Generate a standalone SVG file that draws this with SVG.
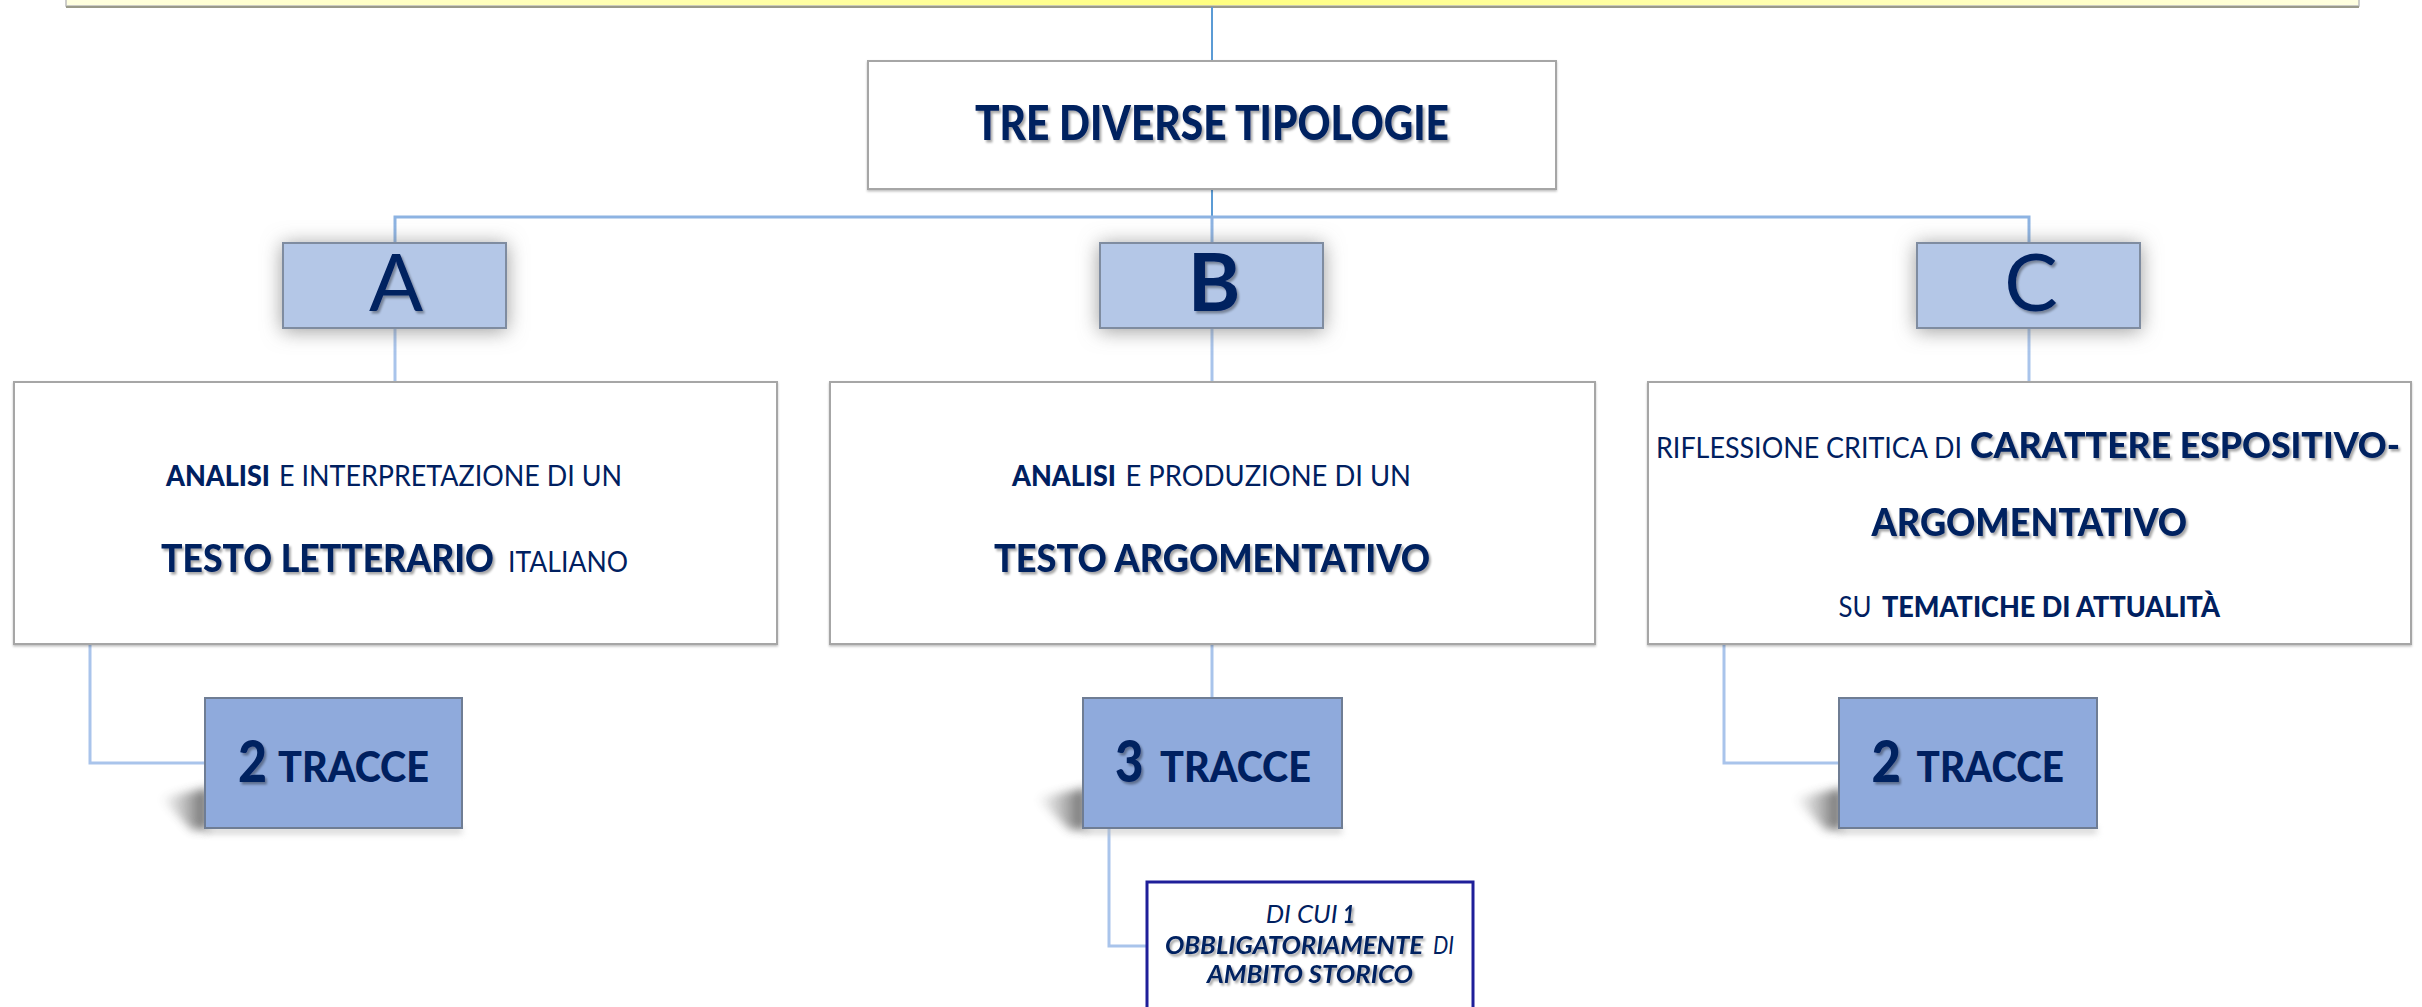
<svg xmlns="http://www.w3.org/2000/svg" width="2422" height="1007" viewBox="0 0 2422 1007">
<style>
.t{font-family:Lato,"Open Sans","Liberation Sans",sans-serif;fill:#002060}
.b{font-weight:900}
.b7{font-weight:700}
.i{font-style:italic}
.sh{filter:url(#txtsh)}
.shs{filter:url(#txtsh2)}
.box{fill:#fff;stroke:#a6a6a6;stroke-width:2}
.abc{fill:#b4c7e7;stroke:#7f8ca0;stroke-width:2}
.trc{fill:#8faadc;stroke:#6f7d94;stroke-width:2}
.c1{fill:none;stroke:#5b9bd5;stroke-width:2}
.c2{fill:none;stroke:#8db3e2;stroke-width:3}
.c3{fill:none;stroke:#a9c4eb;stroke-width:3}
</style>
<defs>
<linearGradient id="ban" x1="0" y1="0" x2="1" y2="0">
<stop offset="0" stop-color="#ffffe0"/>
<stop offset="0.5" stop-color="#ffff80"/>
<stop offset="1" stop-color="#ffffe0"/>
</linearGradient>
<linearGradient id="tsh" x1="0" y1="0" x2="1" y2="0">
<stop offset="0" stop-color="#888" stop-opacity="0"/>
<stop offset="1" stop-color="#555" stop-opacity="1"/>
</linearGradient>
<filter id="txtsh" x="-1.2%" y="-20%" width="102.4%" height="150%">
<feDropShadow dx="2" dy="2.5" stdDeviation="1.2" flood-color="#000" flood-opacity="0.35"/>
</filter>
<filter id="txtsh2" x="-60%" y="-20%" width="220%" height="150%">
<feDropShadow dx="2" dy="2.5" stdDeviation="1.2" flood-color="#000" flood-opacity="0.35"/>
</filter>
<filter id="glow" x="-30%" y="-40%" width="160%" height="180%">
<feDropShadow dx="0" dy="2" stdDeviation="10" flood-color="#7a7a7a" flood-opacity="0.75"/>
</filter>
<filter id="bsh" x="-5%" y="-5%" width="110%" height="115%">
<feDropShadow dx="0" dy="1.5" stdDeviation="1" flood-color="#000" flood-opacity="0.25"/>
</filter>
<filter id="blur6" x="-50%" y="-50%" width="200%" height="200%">
<feGaussianBlur stdDeviation="5"/>
</filter>
<filter id="blur3" x="-50%" y="-50%" width="200%" height="300%">
<feGaussianBlur stdDeviation="3"/>
</filter>
</defs>
<rect width="2422" height="1007" fill="#fff"/>

<g id="banner">
<rect x="66" y="-5" width="2293" height="11" fill="url(#ban)" stroke="#bdbdbd" stroke-width="1.5"/>
<line x1="66" y1="7" x2="2359" y2="7" stroke="#9a9a8a" stroke-width="2"/>
</g>

<g id="connectors">
<line class="c1" x1="1212" y1="7" x2="1212" y2="61"/>
<line class="c1" x1="1212" y1="189" x2="1212" y2="217"/>
<polyline class="c2" points="395,243 395,217 2029,217 2029,243"/>
<line class="c2" x1="1212" y1="217" x2="1212" y2="243"/>
<line class="c3" x1="395" y1="328" x2="395" y2="382"/>
<line class="c3" x1="1212" y1="328" x2="1212" y2="382"/>
<line class="c3" x1="2029" y1="328" x2="2029" y2="382"/>
<polyline class="c3" points="90,644 90,763 205,763"/>
<line class="c3" x1="1212" y1="644" x2="1212" y2="698"/>
<polyline class="c3" points="1724,644 1724,763 1839,763"/>
<polyline class="c3" points="1109,828 1109,946 1147,946"/>
</g>

<g id="node-tipologie">
<rect class="box" x="868" y="61" width="688" height="128" filter="url(#bsh)"/>
<text class="t b sh" x="975" y="140" font-size="47" textLength="474" lengthAdjust="spacingAndGlyphs">TRE DIVERSE TIPOLOGIE</text>
</g>

<g id="node-A">
<rect class="abc" x="283" y="243" width="223" height="85" filter="url(#glow)"/>
<text class="t shs" x="396" y="311" font-size="80" text-anchor="middle">A</text>
</g>
<g id="node-B">
<rect class="abc" x="1100" y="243" width="223" height="85" filter="url(#glow)"/>
<text class="t shs" x="1214" y="311" font-size="80" text-anchor="middle" font-weight="700">B</text>
</g>
<g id="node-C">
<rect class="abc" x="1917" y="243" width="223" height="85" filter="url(#glow)"/>
<text class="t shs" x="2031" y="311" font-size="80" text-anchor="middle">C</text>
</g>

<g id="node-A-desc">
<rect class="box" x="14" y="382" width="763" height="262" filter="url(#bsh)"/>
<text class="t b" x="166" y="486" font-size="29" textLength="104" lengthAdjust="spacingAndGlyphs">ANALISI</text>
<text class="t" x="279" y="486" font-size="29" textLength="343" lengthAdjust="spacingAndGlyphs">E INTERPRETAZIONE DI UN</text>
<text class="t b sh" x="161" y="572" font-size="37" textLength="333" lengthAdjust="spacingAndGlyphs">TESTO LETTERARIO</text>
<text class="t" x="508" y="572" font-size="29" textLength="120" lengthAdjust="spacingAndGlyphs">ITALIANO</text>
</g>

<g id="node-B-desc">
<rect class="box" x="830" y="382" width="765" height="262" filter="url(#bsh)"/>
<text class="t b" x="1012" y="486" font-size="29" textLength="104" lengthAdjust="spacingAndGlyphs">ANALISI</text>
<text class="t" x="1125.5" y="486" font-size="29" textLength="285.5" lengthAdjust="spacingAndGlyphs">E PRODUZIONE  DI UN</text>
<text class="t b sh" x="994" y="572" font-size="37" textLength="436" lengthAdjust="spacingAndGlyphs">TESTO ARGOMENTATIVO</text>
</g>

<g id="node-C-desc">
<rect class="box" x="1648" y="382" width="763" height="262" filter="url(#bsh)"/>
<text class="t" x="1656" y="458" font-size="29" textLength="306" lengthAdjust="spacingAndGlyphs">RIFLESSIONE CRITICA DI</text>
<text class="t b sh" x="1970" y="458" font-size="36" textLength="430" lengthAdjust="spacingAndGlyphs">CARATTERE ESPOSITIVO-</text>
<text class="t b sh" x="1871.5" y="536" font-size="37" textLength="315.5" lengthAdjust="spacingAndGlyphs">ARGOMENTATIVO</text>
<text class="t" x="1838.5" y="617" font-size="29" textLength="33" lengthAdjust="spacingAndGlyphs">SU</text>
<text class="t b" x="1882" y="617" font-size="29" textLength="338" lengthAdjust="spacingAndGlyphs">TEMATICHE DI ATTUALITÀ</text>
</g>

<g id="node-A-tracce">
<polygon points="160,798 208,788 208,830 192,830" fill="url(#tsh)" filter="url(#blur6)" opacity="0.9"/>
<rect x="205" y="827" width="257" height="7" fill="#bbb" filter="url(#blur3)" opacity="0.6"/>
<rect class="trc" x="205" y="698" width="257" height="130"/>
<text class="t b shs" x="238" y="782" font-size="58" textLength="29" lengthAdjust="spacingAndGlyphs">2</text>
<text class="t b" x="278" y="782" font-size="42" textLength="151" lengthAdjust="spacingAndGlyphs">TRACCE</text>
</g>

<g id="node-B-tracce">
<polygon points="1036,798 1086,788 1086,830 1070,830" fill="url(#tsh)" filter="url(#blur6)" opacity="0.9"/>
<rect x="1083" y="827" width="259" height="7" fill="#bbb" filter="url(#blur3)" opacity="0.6"/>
<rect class="trc" x="1083" y="698" width="259" height="130"/>
<text class="t b shs" x="1115" y="782" font-size="58" textLength="28.5" lengthAdjust="spacingAndGlyphs">3</text>
<text class="t b" x="1160" y="782" font-size="42" textLength="151" lengthAdjust="spacingAndGlyphs">TRACCE</text>
</g>

<g id="node-C-tracce">
<polygon points="1794,798 1842,788 1842,830 1826,830" fill="url(#tsh)" filter="url(#blur6)" opacity="0.9"/>
<rect x="1839" y="827" width="258" height="7" fill="#bbb" filter="url(#blur3)" opacity="0.6"/>
<rect class="trc" x="1839" y="698" width="258" height="130"/>
<text class="t b shs" x="1871.5" y="782" font-size="58" textLength="29.5" lengthAdjust="spacingAndGlyphs">2</text>
<text class="t b" x="1916.6" y="782" font-size="42" textLength="147.4" lengthAdjust="spacingAndGlyphs">TRACCE</text>
</g>

<g id="node-storico">
<rect x="1147" y="882" width="326" height="140" fill="#fff" stroke="#1f1f99" stroke-width="3"/>
<text class="t i" x="1265.7" y="923" font-size="25" textLength="72" lengthAdjust="spacingAndGlyphs">DI CUI</text>
<text class="t b7 i shs" x="1342.7" y="923" font-size="25" textLength="12.3" lengthAdjust="spacingAndGlyphs">1</text>
<text class="t b7 i sh" x="1165" y="954" font-size="25" textLength="258" lengthAdjust="spacingAndGlyphs">OBBLIGATORIAMENTE</text>
<text class="t i" x="1433" y="954" font-size="25" textLength="21" lengthAdjust="spacingAndGlyphs">DI</text>
<text class="t b7 i sh" x="1207" y="983" font-size="25" textLength="206" lengthAdjust="spacingAndGlyphs">AMBITO STORICO</text>
</g>
</svg>
